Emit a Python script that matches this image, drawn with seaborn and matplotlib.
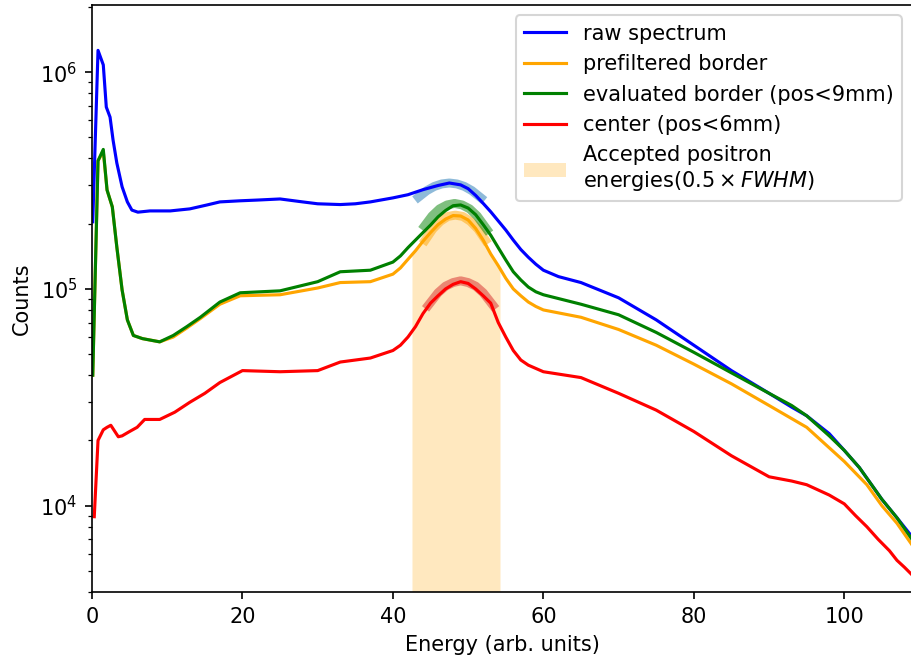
import numpy as np
import pandas as pd
import matplotlib
matplotlib.use("Agg")
import matplotlib.pyplot as plt
import seaborn as sns

# spectra (energy in arb. units, counts)
raw_x = [0.1, 0.8, 1.5, 1.9, 2.4, 2.8, 3.3, 4.0, 4.7, 5.3, 6.1, 7.7, 10.4, 13, 15.3, 17, 19.7,
         22, 25, 28, 30, 33, 35, 37, 40, 42, 44, 46, 47.5, 49, 50, 51, 52, 53, 54, 55, 56, 57,
         58, 59, 60, 62, 65, 70, 75, 80, 85, 90, 93, 95, 98, 100, 102, 105, 107, 109]
raw_y = [2.04e5, 1.26e6, 1.08e6, 6.9e5, 6.2e5, 4.86e5, 3.81e5, 2.96e5, 2.52e5, 2.31e5, 2.26e5,
         2.29e5, 2.29e5, 2.34e5, 2.44e5, 2.52e5, 2.55e5, 2.57e5, 2.6e5, 2.52e5, 2.47e5, 2.45e5,
         2.47e5, 2.52e5, 2.63e5, 2.72e5, 2.87e5, 3.0e5, 3.08e5, 3.02e5, 2.9e5, 2.7e5, 2.48e5,
         2.27e5, 2.06e5, 1.87e5, 1.68e5, 1.52e5, 1.4e5, 1.3e5, 1.22e5, 1.14e5, 1.07e5, 9.1e4,
         7.2e4, 5.5e4, 4.2e4, 3.3e4, 2.85e4, 2.6e4, 2.15e4, 1.8e4, 1.5e4, 1.07e4, 8.8e3, 7.2e3]

pre_x = [0.1, 0.8, 1.5, 2.0, 2.7, 3.3, 4.0, 4.7, 5.5, 6.7, 9.0, 10.8, 12.6, 14.4, 17, 19.7, 25,
         30, 33, 37, 40, 41, 42, 43, 44, 45, 46, 47, 48, 49, 50, 51, 52, 53, 54, 55, 56, 57, 58,
         59, 60, 65, 70, 75, 80, 85, 90, 95, 100, 103, 105, 107, 109]
pre_y = [4.0e4, 3.9e5, 4.3e5, 2.86e5, 2.39e5, 1.56e5, 9.9e4, 7.2e4, 6.1e4, 5.9e4, 5.7e4, 6.0e4,
         6.6e4, 7.3e4, 8.5e4, 9.3e4, 9.4e4, 1.01e5, 1.07e5, 1.08e5, 1.17e5, 1.25e5, 1.37e5,
         1.5e5, 1.66e5, 1.82e5, 1.98e5, 2.1e5, 2.18e5, 2.17e5, 2.08e5, 1.9e5, 1.68e5, 1.45e5,
         1.28e5, 1.12e5, 1.0e5, 9.3e4, 8.7e4, 8.3e4, 8.0e4, 7.4e4, 6.5e4, 5.5e4, 4.5e4, 3.65e4,
         2.9e4, 2.3e4, 1.6e4, 1.25e4, 1.0e4, 8.3e3, 6.6e3]

eval_x = [0.1, 0.8, 1.5, 2.0, 2.7, 3.3, 4.0, 4.7, 5.5, 6.7, 9.0, 10.8, 12.6, 14.4, 17, 19.7, 25,
          30, 33, 37, 40, 41, 42, 43, 44, 45, 46, 47, 48, 49, 50, 51, 52, 53, 54, 55, 56, 57, 58,
          59, 60, 65, 70, 75, 80, 85, 90, 93, 95, 98, 100, 102, 105, 107, 109]
eval_y = [4.0e4, 3.9e5, 4.4e5, 2.86e5, 2.39e5, 1.56e5, 9.9e4, 7.2e4, 6.1e4, 5.9e4, 5.7e4,
          6.1e4, 6.7e4, 7.4e4, 8.7e4, 9.6e4, 9.8e4, 1.08e5, 1.2e5, 1.22e5, 1.33e5, 1.42e5,
          1.55e5, 1.68e5, 1.82e5, 1.97e5, 2.15e5, 2.3e5, 2.42e5, 2.44e5, 2.36e5, 2.2e5, 1.98e5,
          1.77e5, 1.55e5, 1.36e5, 1.2e5, 1.1e5, 1.02e5, 9.7e4, 9.4e4, 8.5e4, 7.6e4, 6.3e4,
          5.1e4, 4.1e4, 3.3e4, 2.9e4, 2.6e4, 2.1e4, 1.8e4, 1.5e4, 1.07e4, 8.8e3, 7.0e3]

cen_x = [0.3, 0.8, 1.5, 2, 2.5, 3.5, 4, 5, 6, 7, 9, 11, 13, 15, 17, 20, 25, 30, 33, 37, 40, 41,
         42, 43, 44, 45, 46, 47, 48, 49, 50, 51, 52, 53, 54, 55, 56, 57, 58, 60, 65, 70, 75, 80,
         85, 90, 93, 95, 98, 100, 101.5, 103, 104.5, 106, 107, 108, 109]
cen_y = [8.9e3, 2.0e4, 2.24e4, 2.3e4, 2.35e4, 2.08e4, 2.1e4, 2.2e4, 2.3e4, 2.5e4, 2.5e4, 2.7e4,
         3.0e4, 3.3e4, 3.7e4, 4.2e4, 4.15e4, 4.2e4, 4.6e4, 4.8e4, 5.2e4, 5.5e4, 6.0e4, 6.7e4,
         7.7e4, 8.6e4, 9.3e4, 1.0e5, 1.05e5, 1.08e5, 1.06e5, 1.0e5, 9.3e4, 8.6e4, 7.0e4, 6.0e4,
         5.2e4, 4.7e4, 4.45e4, 4.15e4, 3.9e4, 3.3e4, 2.76e4, 2.2e4, 1.7e4, 1.36e4, 1.3e4,
         1.25e4, 1.12e4, 1.02e4, 9.0e3, 8.0e3, 7.0e3, 6.2e3, 5.6e3, 5.2e3, 4.8e3]

# peak fits (drawn as thick translucent arcs)
fit_raw_x = [43.4, 44.5, 45.5, 46.5, 47.5, 48.5, 49.5, 50.5, 51.7]
fit_raw_y = [2.65e5, 2.84e5, 2.97e5, 3.05e5, 3.08e5, 3.05e5, 2.97e5, 2.84e5, 2.63e5]
fit_eval_x = [44.2, 45.2, 46.2, 47.2, 48.2, 49.2, 50.2, 51.2, 52.5]
fit_eval_y = [1.95e5, 2.17e5, 2.34e5, 2.44e5, 2.48e5, 2.44e5, 2.34e5, 2.17e5, 1.88e5]
fit_pre_x = [44.3, 45.3, 46.3, 47.3, 48.3, 49.3, 50.3, 51.3, 52.3]
fit_pre_y = [1.68e5, 1.89e5, 2.05e5, 2.16e5, 2.19e5, 2.16e5, 2.05e5, 1.89e5, 1.68e5]
fit_cen_x = [44.7, 46, 47, 48, 49, 50, 51, 52, 53.3]
fit_cen_y = [8.4e4, 9.6e4, 1.03e5, 1.07e5, 1.09e5, 1.07e5, 1.03e5, 9.6e4, 8.4e4]

# accepted window, shaded up to the prefiltered border spectrum
span_lo, span_hi = 42.6, 54.3
span_lo_top, span_hi_top = 1.45e5, 1.23e5

fig = plt.figure(figsize=(911 / 150, 660 / 150), dpi=150)
ax = fig.add_axes([92 / 911, 68 / 660, 820 / 911, 587 / 660])

inside = [(x, y) for x, y in zip(pre_x, pre_y) if span_lo < x < span_hi]
fx = [span_lo] + [p[0] for p in inside] + [span_hi]
fy = [span_lo_top] + [p[1] for p in inside] + [span_hi_top]
ax.fill_between(fx, 1.0, fy, color="orange", alpha=0.25, lw=0,
                label="Accepted positron\nenergies($0.5\\times FWHM$)")

# fits first so the spectra sit on top of them
for fxs, fys, c in [(fit_raw_x, fit_raw_y, "C0"), (fit_pre_x, fit_pre_y, "orange"),
                    (fit_eval_x, fit_eval_y, "green"), (fit_cen_x, fit_cen_y, "C3")]:
    sns.lineplot(x=fxs, y=fys, ax=ax, color=c, lw=4.3, alpha=0.5, legend=False)

sns.lineplot(x=raw_x, y=raw_y, ax=ax, color="blue", lw=1.5, label="raw spectrum")
sns.lineplot(x=pre_x, y=pre_y, ax=ax, color="orange", lw=1.5, label="prefiltered border")
sns.lineplot(x=eval_x, y=eval_y, ax=ax, color="green", lw=1.5, label="evaluated border (pos<9mm)")
sns.lineplot(x=cen_x, y=cen_y, ax=ax, color="red", lw=1.5, label="center (pos<6mm)")

ax.set_yscale("log")
ax.set_xlim(0, 109)
ax.set_ylim(4.0e3, 2.04e6)
ax.set_xlabel("Energy (arb. units)")
ax.set_ylabel("Counts")

handles, labels = ax.get_legend_handles_labels()
order = [1, 2, 3, 4, 0]
ax.legend([handles[i] for i in order], [labels[i] for i in order], loc="upper right")

fig.savefig("out.png", dpi=150)
